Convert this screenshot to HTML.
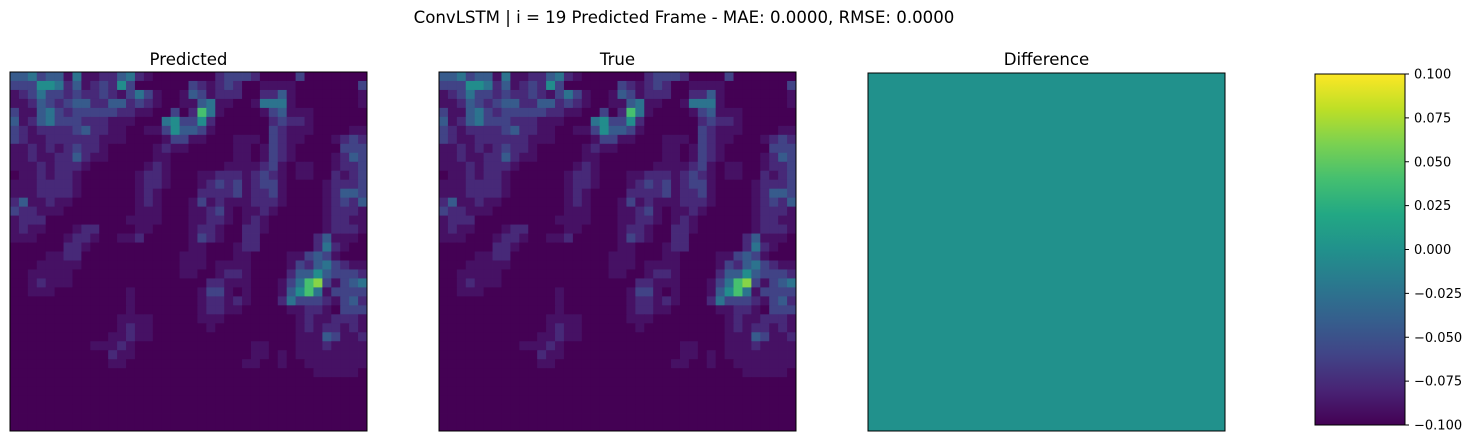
<!DOCTYPE html>
<html><head><meta charset="utf-8"><style>
html,body{margin:0;padding:0;background:#fff;}
body{width:1476px;height:443px;position:relative;overflow:hidden;font-family:"DejaVu Sans",sans-serif;}
</style></head><body>
<svg id="fig" width="1476" height="443" xmlns="http://www.w3.org/2000/svg" font-family="DejaVu Sans, Liberation Sans, sans-serif">
<text x="684" y="23" font-size="16.6" text-anchor="middle">ConvLSTM | i = 19 Predicted Frame - MAE: 0.0000, RMSE: 0.0000</text>
<text x="188.5" y="65" font-size="16.6" text-anchor="middle">Predicted</text>
<text x="617.5" y="65" font-size="16.6" text-anchor="middle">True</text>
<text x="1046.5" y="65" font-size="16.6" text-anchor="middle">Difference</text>
<g id="pred"></g>
<g id="truth"></g>
<rect x="868" y="73" width="357" height="358" fill="#21918c" stroke="#000" stroke-width="1"/>
<defs><linearGradient id="vir" x1="0" y1="1" x2="0" y2="0">
<stop offset="0" stop-color="#440154"/><stop offset="0.1" stop-color="#482475"/><stop offset="0.2" stop-color="#414487"/><stop offset="0.3" stop-color="#355f8d"/><stop offset="0.4" stop-color="#2a788e"/><stop offset="0.5" stop-color="#21918c"/><stop offset="0.6" stop-color="#22a884"/><stop offset="0.7" stop-color="#44bf70"/><stop offset="0.8" stop-color="#7ad151"/><stop offset="0.9" stop-color="#bddf26"/><stop offset="1" stop-color="#fde725"/>
</linearGradient></defs>
<rect x="1315" y="74" width="90" height="351" fill="url(#vir)" stroke="#000" stroke-width="1"/>
<g id="cbticks" font-size="13"></g>
</svg>
<script>
const gridRows = [
"4453441511224521000000023332000030000000",
"3336652412326300000032123200111100000003",
"1235332322321353100143122200224100000001",
"1124323442244232100114511001555100000001",
"3114532333332211003028510000134111000000",
"4124533322211100056336200000023221000000",
"3212222342211001136443100000032111000011",
"3211222222111000013311000111032110001232",
"1121212322100000121100000110132100000333",
"1121122421100000110000000110132100001243",
"1112122210000001210000001111231011001223",
"0112122100000012210001122212321011002123",
"1112222100000012210001232312331000012223",
"1112222100000012100002222312231000012443",
"2411211000000012100013121112221000012324",
"3221110000000011100011231011210000012221",
"1222000000000111100011221012100000012211",
"1211000122000011000012210022100000012221",
"1110001221001120000013210022000000241110",
"0000002210000000000011000122000000252100",
"0000112200000000000111000110000113431000",
"0001111100000000000111011110000132453211",
"0011111000000000000110012210000244643332",
"0012111000000000000000221110001358931345",
"0011100000000100000001331010001468513333",
"0000000000000100000001221210002533321342",
"0000000000000100000001221100000112210333",
"0000000000001111000001110000000012112221",
"0000000000001211000000100000000012122121",
"0000000000011211000000000000000011143112",
"0000000001112100000000000001100011121111",
"0000000000021100000000000001101011111111",
"0000000000011000000000000011001001111111",
"0000000000000000000000000000000000111110",
"0000000000000000000000000000000000000000",
"0000000000000000000000000000000000000000",
"0000000000000000000000000000000000000000",
"0000000000000000000000000000000000000000",
"0000000000000000000000000000000000000000",
"0000000000000000000000000000000000000000"
];
const cbTickValues = [0.100, 0.075, 0.050, 0.025, 0.000, -0.025, -0.050, -0.075, -0.100];
const cbTickLabels = ["0.100","0.075","0.050","0.025","0.000","\u22120.025","\u22120.050","\u22120.075","\u22120.100"];

const stops = ["#440154","#482475","#414487","#355f8d","#2a788e","#21918c","#22a884","#44bf70","#7ad151","#bddf26","#fde725"];
function hex(c){return [parseInt(c.slice(1,3),16),parseInt(c.slice(3,5),16),parseInt(c.slice(5,7),16)];}
function viridis(t){t=Math.max(0,Math.min(1,t));const p=t*10,i=Math.min(9,Math.floor(p)),f=p-i;const a=hex(stops[i]),b=hex(stops[i+1]);return "rgb("+a.map((v,k)=>Math.round(v+(b[k]-v)*f)).join(",")+")";}
function norm(v){return 0.82*Math.pow(Math.max(0,v)/0.9,1.3);}
const NS="http://www.w3.org/2000/svg";
function drawHeat(gid,x0,y0,w,h,name){
  const g=document.getElementById(gid);
  const n=gridRows.length,m=gridRows[0].length;
  const cw=w/m,ch=h/n;
  for(let r=0;r<n;r++)for(let c=0;c<m;c++){
    const v=+gridRows[r][c]/10;
    const el=document.createElementNS(NS,"rect");
    
    
    el.setAttribute("x",(x0+c*cw).toFixed(2));el.setAttribute("y",(y0+r*ch).toFixed(2));
    el.setAttribute("width",(cw+0.4).toFixed(2));el.setAttribute("height",(ch+0.4).toFixed(2));
    el.setAttribute("fill",viridis(norm(v)));g.appendChild(el);
  }
  const fr=document.createElementNS(NS,"rect");
  
  
  fr.setAttribute("x",x0);fr.setAttribute("y",y0);fr.setAttribute("width",w);fr.setAttribute("height",h);
  fr.setAttribute("fill","none");fr.setAttribute("stroke","#000");g.appendChild(fr);
}
drawHeat("pred",10,72,357,359,"predicted");
drawHeat("truth",439,72,357,359,"true");
const cb=document.getElementById("cbticks");
function cbY(v){return 425-(v+0.1)/0.2*351;}
cbTickValues.forEach((v,i)=>{
  const y=cbY(v);
  const ln=document.createElementNS(NS,"line");
  
  
  ln.setAttribute("x1",1405);ln.setAttribute("x2",1409);ln.setAttribute("y1",y);ln.setAttribute("y2",y);ln.setAttribute("stroke","#000");cb.appendChild(ln);
  const t=document.createElementNS(NS,"text");
  
  
  t.setAttribute("x",1414);t.setAttribute("y",y+4.5);t.textContent=cbTickLabels[i];cb.appendChild(t);
});
</script>
</body></html>
